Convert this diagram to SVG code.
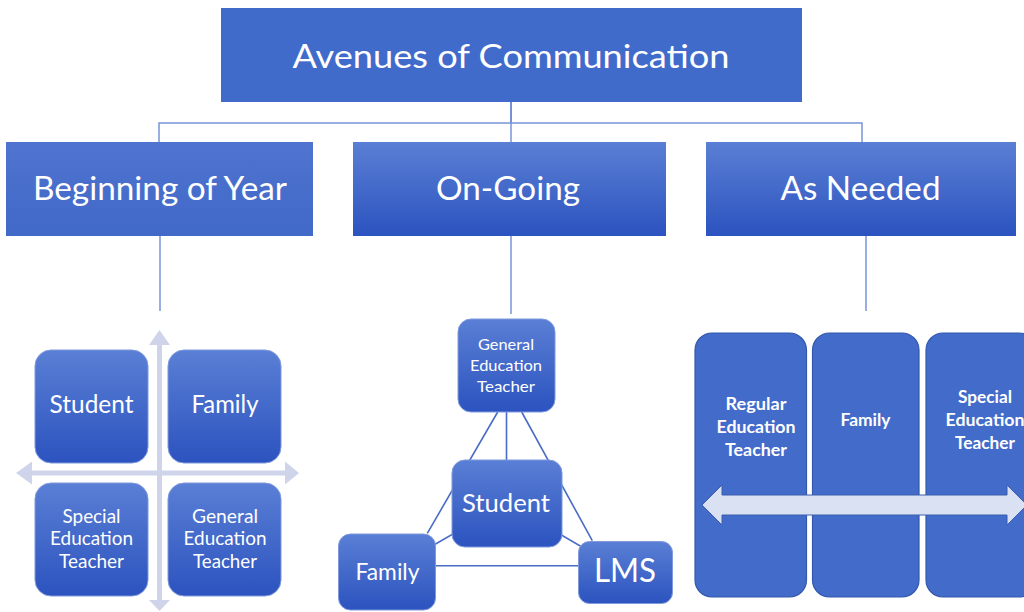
<svg xmlns="http://www.w3.org/2000/svg" width="1024" height="612" viewBox="0 0 1024 612">
<defs>
<linearGradient id="g1" x1="0" y1="0" x2="0" y2="1">
<stop offset="0" stop-color="#5a7fd5"/>
<stop offset="1" stop-color="#2c53bf"/>
</linearGradient>
<linearGradient id="g2" x1="0" y1="0" x2="0" y2="1">
<stop offset="0" stop-color="#4f73d0"/>
<stop offset="1" stop-color="#4169c8"/>
</linearGradient>
<style>
text{font-family:Lato,"Open Sans","Liberation Sans",sans-serif;fill:#ffffff;text-anchor:middle}
.flat{fill:#416bcb}
.grad{fill:url(#g1)}
.rbox{fill:url(#g1);stroke:#7f99dc;stroke-width:1}
.col{fill:#426bca;stroke:#3358ad;stroke-width:1.2}
.conn{stroke:#4a6cc6;stroke-width:1.5;fill:none}
.lconn{stroke:#7a95d8;stroke-width:1.5;fill:none}
.tri{stroke:#4a6cc6;stroke-width:1.6;fill:none}
.lav{fill:#cfd4ea}
.b{font-weight:bold}
</style>
</defs>
<rect width="1024" height="612" fill="#ffffff"/>

<g id="connectors">
<path class="conn" d="M511,102 V123"/>
<path class="lconn" d="M159,142 V123 H862 V142 M511,123 V142" stroke-width="2"/>
<path class="lconn" d="M160,236 V311 M511,236 V314 M866,236 V311"/>
<path class="tri" d="M506.5,412 V460 M497.7,412 L427.3,533.3 M521.7,412 L592.3,540.7 M435.7,565.7 H578.3 M506.7,503 L387,572 M506.7,503 L625.5,572.5"/>
</g>

<g id="title">
<rect class="flat" x="221" y="8" width="581" height="94"/>
<text x="511" y="68" font-size="33" textLength="437" lengthAdjust="spacingAndGlyphs">Avenues of Communication</text>
</g>

<g id="beginning">
<rect class="grad" x="6" y="142" width="307" height="94" style="fill:url(#g2)"/>
<text x="160" y="200" font-size="33" textLength="254" lengthAdjust="spacingAndGlyphs">Beginning of Year</text>
</g>
<g id="ongoing">
<rect class="grad" x="353" y="142" width="313" height="94"/>
<text x="508" y="200" font-size="33" textLength="144" lengthAdjust="spacingAndGlyphs">On-Going</text>
</g>
<g id="asneeded">
<rect class="grad" x="706" y="142" width="310" height="94"/>
<text x="860.5" y="200" font-size="33" textLength="160" lengthAdjust="spacingAndGlyphs">As Needed</text>
</g>

<g id="quad-arrows">
<rect class="lav" x="157" y="344" width="5" height="257"/>
<polygon class="lav" points="159.5,330 170,345 149,345"/>
<polygon class="lav" points="159.5,611 170,600 149,600"/>
<rect class="lav" x="31" y="470.5" width="255" height="5"/>
<polygon class="lav" points="16,473 32,461.5 32,484.5"/>
<polygon class="lav" points="299,473 285,461.5 285,484.5"/>
</g>

<g id="q-student">
<rect class="rbox" x="35" y="350" width="113" height="113" rx="16"/>
<text x="91.5" y="413" font-size="25" textLength="84" lengthAdjust="spacingAndGlyphs">Student</text>
</g>
<g id="q-family">
<rect class="rbox" x="168" y="350" width="113" height="113" rx="16"/>
<text x="225" y="413" font-size="25" textLength="67" lengthAdjust="spacingAndGlyphs">Family</text>
</g>
<g id="q-special">
<rect class="rbox" x="35" y="483" width="113" height="113" rx="16"/>
<text x="91.5" y="522.5" font-size="19" textLength="58" lengthAdjust="spacingAndGlyphs">Special</text>
<text x="91.5" y="545" font-size="19" textLength="83" lengthAdjust="spacingAndGlyphs">Education</text>
<text x="91.5" y="568" font-size="19" textLength="65" lengthAdjust="spacingAndGlyphs">Teacher</text>
</g>
<g id="q-general">
<rect class="rbox" x="168" y="483" width="113" height="113" rx="16"/>
<text x="225" y="522.5" font-size="19" textLength="66" lengthAdjust="spacingAndGlyphs">General</text>
<text x="225" y="545" font-size="19" textLength="83" lengthAdjust="spacingAndGlyphs">Education</text>
<text x="225" y="568" font-size="19" textLength="64" lengthAdjust="spacingAndGlyphs">Teacher</text>
</g>

<g id="m-general">
<rect class="rbox" x="458" y="319" width="97" height="93" rx="13"/>
<text x="506" y="350" font-size="16" textLength="56" lengthAdjust="spacingAndGlyphs">General</text>
<text x="506" y="371" font-size="16" textLength="72" lengthAdjust="spacingAndGlyphs">Education</text>
<text x="506" y="391.5" font-size="16" textLength="58" lengthAdjust="spacingAndGlyphs">Teacher</text>
</g>
<g id="m-student">
<rect class="rbox" x="452" y="460" width="110" height="87" rx="13"/>
<text x="506" y="511.5" font-size="25" textLength="88" lengthAdjust="spacingAndGlyphs">Student</text>
</g>
<g id="m-family">
<rect class="rbox" x="338.5" y="534" width="97" height="76" rx="12"/>
<text x="387.5" y="580" font-size="23" textLength="64" lengthAdjust="spacingAndGlyphs">Family</text>
</g>
<g id="m-lms">
<rect class="rbox" x="578.5" y="541.5" width="94" height="62" rx="11"/>
<text x="625" y="581.5" font-size="32" textLength="62" lengthAdjust="spacingAndGlyphs">LMS</text>
</g>

<g id="r-regular">
<rect class="col" x="695" y="333" width="111.5" height="264" rx="17"/>
<text class="b" x="756" y="409.5" font-size="16.5" textLength="61" lengthAdjust="spacingAndGlyphs">Regular</text>
<text class="b" x="756" y="433" font-size="16.5" textLength="79" lengthAdjust="spacingAndGlyphs">Education</text>
<text class="b" x="756" y="456" font-size="16.5" textLength="62" lengthAdjust="spacingAndGlyphs">Teacher</text>
</g>
<g id="r-family">
<rect class="col" x="812.5" y="333" width="106.5" height="264" rx="17"/>
<text class="b" x="865.5" y="426" font-size="16.5" textLength="50" lengthAdjust="spacingAndGlyphs">Family</text>
</g>
<g id="r-special">
<rect class="col" x="926" y="333" width="110" height="264" rx="17"/>
<text class="b" x="985" y="402.5" font-size="16.5" textLength="54" lengthAdjust="spacingAndGlyphs">Special</text>
<text class="b" x="985" y="426" font-size="16.5" textLength="79" lengthAdjust="spacingAndGlyphs">Education</text>
<text class="b" x="985" y="448.5" font-size="16.5" textLength="60" lengthAdjust="spacingAndGlyphs">Teacher</text>
</g>
<g id="r-arrow">
<polygon points="702,505 722,485 722,495 1007,495 1007,485 1027,505 1007,525 1007,515 722,515 722,525" fill="#d9e1f2" stroke="#3d5fae" stroke-width="1"/>
</g>
</svg>
